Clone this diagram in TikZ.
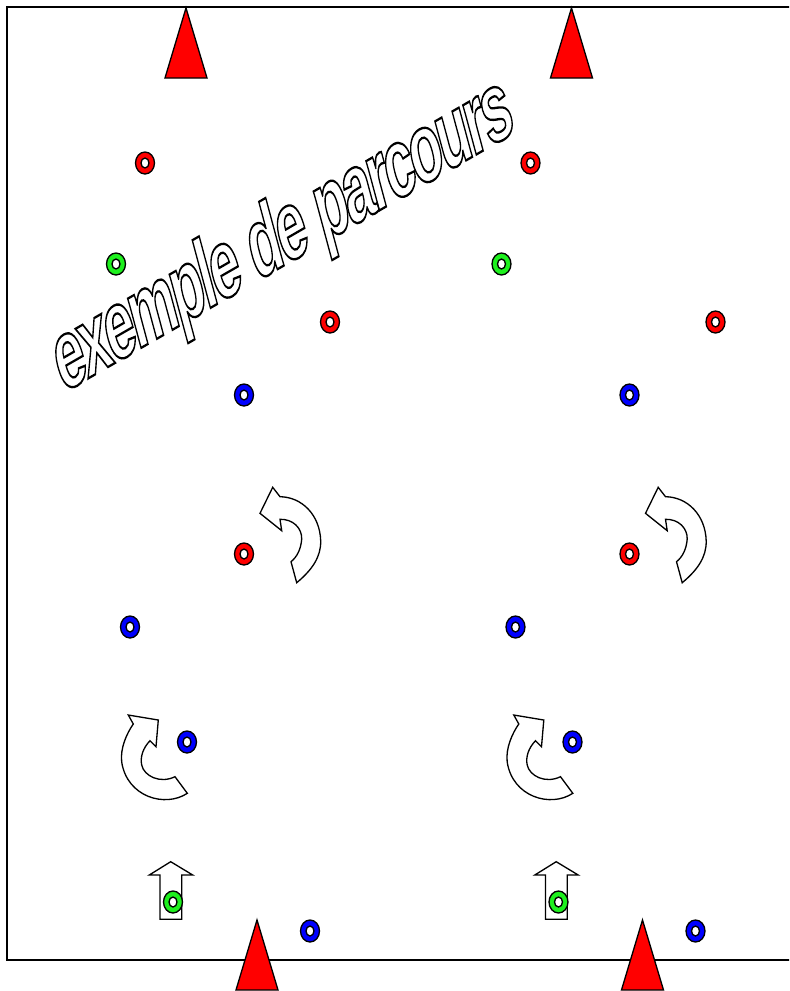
\documentclass[tikz,border=0pt]{standalone}
\usepackage{fontspec}
\setmainfont{Liberation Sans}
\newfontfamily\titlefont[LetterSpace=-6]{Liberation Sans}
\usetikzlibrary{shapes.geometric}

\definecolor{ringred}{RGB}{255,0,0}
\definecolor{ringgreen}{RGB}{30,240,30}
\definecolor{ringblue}{RGB}{0,0,255}

% outlined letters (stroke only)
\newcommand{\hollow}[1]{\special{pdf:literal direct 1 Tr 1.3 w}#1\special{pdf:literal direct 0 Tr}}

\begin{document}
\begin{tikzpicture}[
    x=0.02cm, y=-0.02cm,
    ring/.style={ellipse, draw, line width=0.75pt, fill=#1, inner sep=0pt,
                 minimum width=0.38cm, minimum height=0.44cm,
                 path picture={\draw[line width=0.75pt, fill=white]
                   (path picture bounding box.center) ellipse [x radius=0.08cm, y radius=0.1cm];}},
    cone/.style={draw, fill=red, line width=0.75pt},
    turn/.style={draw, fill=white, line width=0.75pt}
  ]
  \useasboundingbox (0,0) rectangle (789,991);
  \clip (0,0) rectangle (789,991);
  \draw[line width=0.85pt] (7,7) rectangle (800,960);

  % the same course twice, side by side
  \foreach \s/\h in {0/a, 385.5/b}{
    \begin{scope}[shift={(\s,0)}]
      \draw[cone] (186,8) -- (207,78) -- (165,78) -- cycle;
      \draw[cone] (257,920) -- (278,990) -- (236,990) -- cycle;
      % turning arrows
      \draw[turn] (296.7,582.7) .. controls (312,570) and (321,557) .. (320.7,541)
        .. controls (320,515) and (302,497) .. (280,496.7) -- (272.7,487.3) -- (260,513.3)
        -- (281.7,530.7) -- (280,519.3) .. controls (293,519) and (302,528) .. (301.7,539)
        .. controls (301,549) and (297,557) .. (291,561.7) -- cycle;
      \draw[turn] (133.3,724) -- (128.3,715) -- (158.3,720) -- (156,746.7) -- (150,740.7)
        .. controls (143,748) and (140,757) .. (141.7,765)
        .. controls (144,776) and (160,784) .. (175,776.7) -- (187.3,793.3)
        .. controls (165,808) and (127,797) .. (121.7,762)
        .. controls (120,748) and (127,733) .. (133.3,724) -- cycle;
      \draw[turn] (160,919.3) -- (160,875) -- (149.3,875) -- (170.7,861.7)
        -- (192.7,875) -- (181.7,875) -- (181.7,919.3) -- cycle;
      % plots
      \foreach \x/\y/\col [count=\i] in {145/163/ringred, 116/264/ringgreen,
          330/322/ringred, 244/395/ringblue, 244/554/ringred, 130/627/ringblue,
          187/742/ringblue, 173/902/ringgreen, 310/931/ringblue}
        \node[ring=\col] (\h\i) at (\x,\y) {};
    \end{scope}
  }

  \node[font=\titlefont\bfseries\fontsize{55}{55}\selectfont, anchor=base,
        cm={0.520,0.300,-0.259,0.966,(0,0)}, transform shape]
        (title) at (290,262) {\hollow{exemple de parcours}};
\end{tikzpicture}
\end{document}
